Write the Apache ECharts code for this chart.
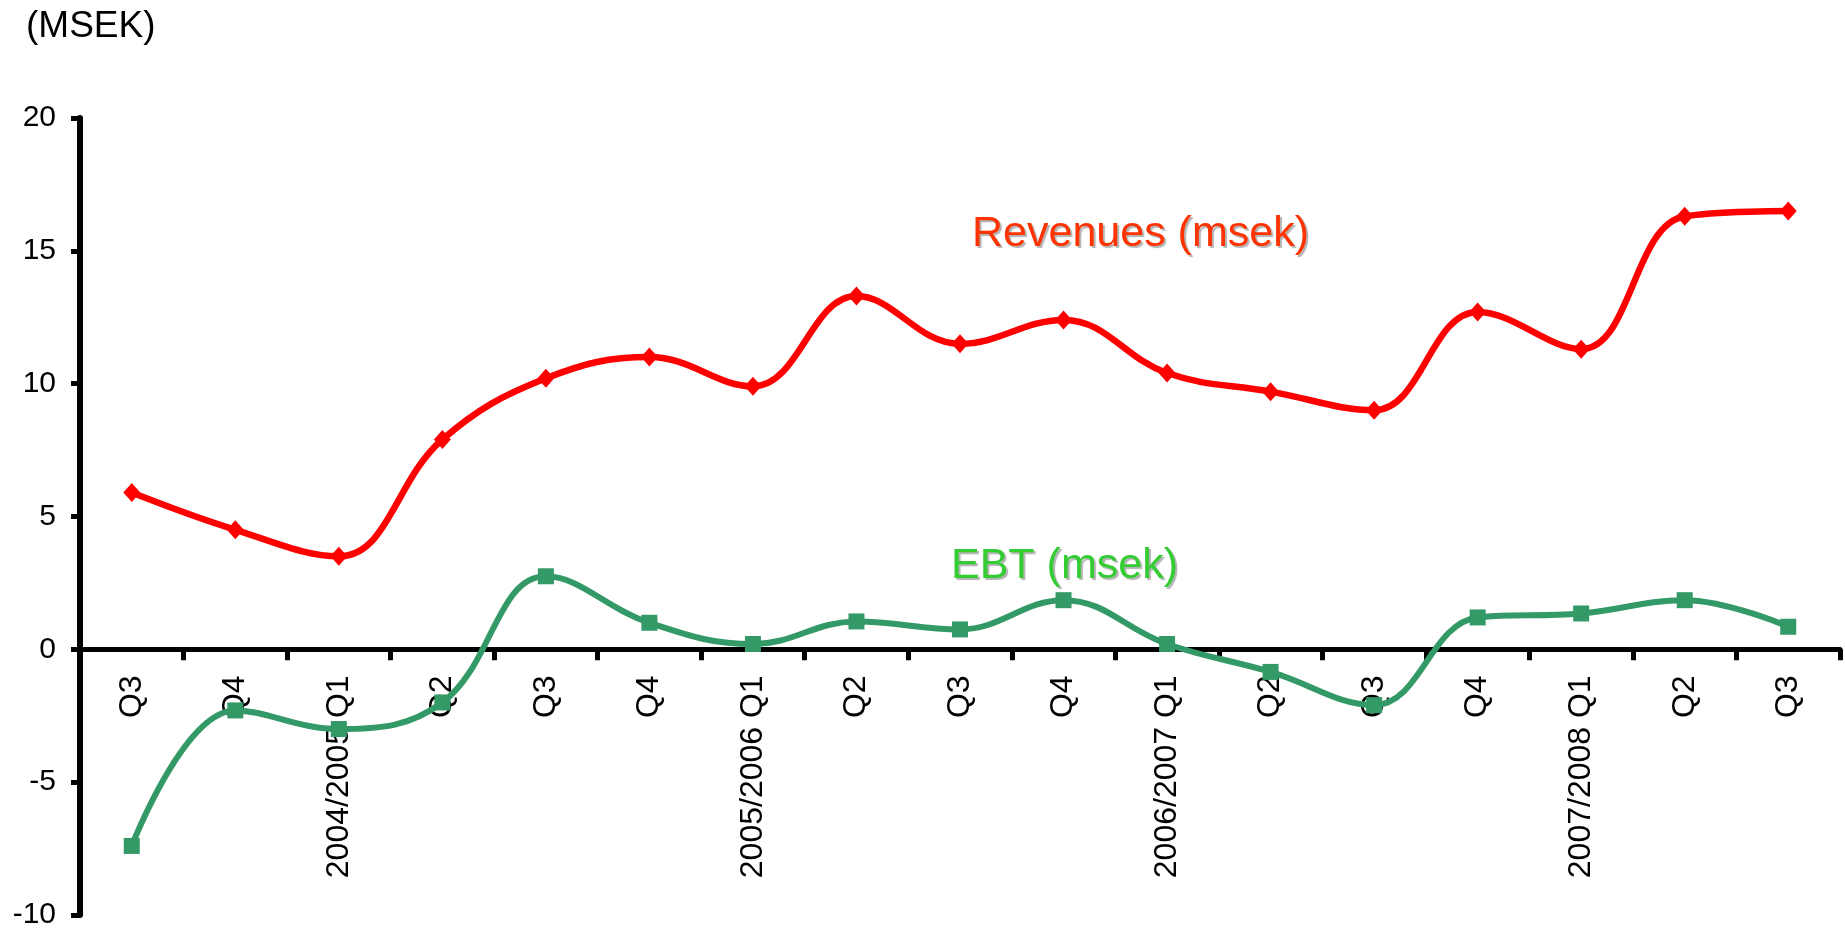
<!DOCTYPE html>
<html>
<head>
<meta charset="utf-8">
<script src="https://cdn.jsdelivr.net/npm/echarts@6/dist/echarts.min.js"></script>
<style>
  html, body { margin: 0; padding: 0; background: #fff; }
  #chart { width: 1845px; height: 932px; }
</style>
</head>
<body>
<div id="chart"></div>
<script>
// Quarter labels (fiscal years start in Q1)
var quarters = [
    'Q3', 'Q4', '2004/2005 Q1', 'Q2', 'Q3', 'Q4',
    '2005/2006 Q1', 'Q2', 'Q3', 'Q4',
    '2006/2007 Q1', 'Q2', 'Q3', 'Q4',
    '2007/2008 Q1', 'Q2', 'Q3'
];

// Values (MSEK)
var revenues = [5.9, 4.5, 3.5, 7.9, 10.2, 11.0, 9.9, 13.3, 11.5, 12.4, 10.4, 9.7, 9.0, 12.7, 11.3, 16.3, 16.5];
var ebt = [-7.4, -2.3, -3.0, -2.0, 2.75, 1.0, 0.2, 1.05, 0.75, 1.85, 0.2, -0.85, -2.1, 1.2, 1.35, 1.85, 0.85];

var yTicks = { min: -10, max: 20, interval: 5 };

var font = '"Liberation Sans", Arial, sans-serif';

var gridTop = 118, gridBottom = 17;
var gridHeight = 932 - gridTop - gridBottom;
// lift the category axis up to the zero line (labels hang below it)
var zeroOffset = -gridHeight * (0 - yTicks.min) / (yTicks.max - yTicks.min);

var chart = echarts.init(document.getElementById('chart'));

chart.setOption({
    animation: false,
    textStyle: {
        fontFamily: font
    },

    grid: {
        left: 80,
        right: 5,
        top: gridTop,
        bottom: gridBottom,
        containLabel: false,
        outerBoundsMode: 'none'
    },

    // Free text labels
    graphic: [
        {
            type: 'text',
            left: 26,
            top: 8,
            style: {
                text: '(MSEK)',
                font: '37px ' + font,
                fill: '#000'
            }
        },
        {
            type: 'text',
            left: 972,
            top: 213,
            style: {
                text: 'Revenues (msek)',
                font: '43px ' + font,
                fill: '#FF3300',
                textShadowColor: 'rgba(0,0,0,0.3)',
                textShadowOffsetX: 2,
                textShadowOffsetY: 2,
                textShadowBlur: 1
            }
        },
        {
            type: 'text',
            left: 951,
            top: 545,
            style: {
                text: 'EBT (msek)',
                font: '43px ' + font,
                fill: '#33CC33',
                textShadowColor: 'rgba(0,0,0,0.3)',
                textShadowOffsetX: 2,
                textShadowOffsetY: 2,
                textShadowBlur: 1
            }
        }
    ],

    xAxis: {
        type: 'category',
        data: quarters,
        boundaryGap: true,
        position: 'bottom',
        offset: zeroOffset,
        axisLine: {
            onZero: false,
            lineStyle: { color: '#000', width: 5 }
        },
        axisTick: {
            show: true,
            inside: false,
            length: 11,
            lineStyle: { color: '#000', width: 5 }
        },
        axisLabel: {
            interval: 0,
            rotate: 90,
            margin: 26,
            fontSize: 32,
            color: '#000',
            fontFamily: font
        },
        splitLine: { show: false }
    },

    yAxis: {
        type: 'value',
        min: yTicks.min,
        max: yTicks.max,
        interval: yTicks.interval,
        axisLine: {
            show: true,
            lineStyle: { color: '#000', width: 6 }
        },
        axisTick: {
            show: true,
            length: 9,
            lineStyle: { color: '#000', width: 5 }
        },
        axisLabel: {
            fontSize: 30,
            color: '#000',
            margin: 24,
            fontFamily: font
        },
        splitLine: { show: false }
    },

    series: [
        {
            name: 'Revenues (msek)',
            type: 'line',
            data: revenues,
            smooth: 0.4,
            symbol: 'diamond',
            symbolSize: [17, 19],
            itemStyle: { color: '#FF0000' },
            lineStyle: { color: '#FF0000', width: 6.5 },
            z: 3
        },
        {
            name: 'EBT (msek)',
            type: 'line',
            data: ebt,
            smooth: 0.4,
            symbol: 'rect',
            symbolSize: 16,
            itemStyle: { color: '#339966' },
            lineStyle: { color: '#339966', width: 6 },
            z: 3
        }
    ]
});
</script>
</body>
</html>
